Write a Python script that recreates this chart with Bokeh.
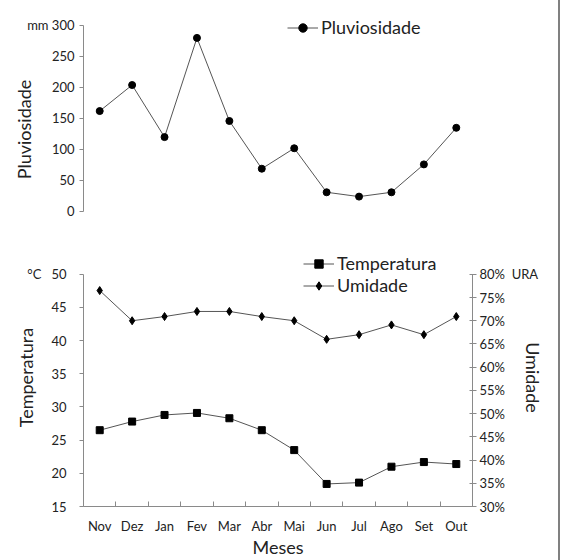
from bokeh.plotting import figure
from bokeh.models import (Range1d, LinearAxis, FixedTicker, PrintfTickFormatter,
                          Legend, LegendItem)
from bokeh.layouts import column
from bokeh.embed import file_html
from bokeh.resources import INLINE

# ---- data ----
meses = ["Nov", "Dez", "Jan", "Fev", "Mar", "Abr", "Mai", "Jun", "Jul", "Ago", "Set", "Out"]
pluviosidade = [162, 204, 120, 280, 146, 69, 102, 31, 24, 31, 76, 135]
temperatura = [26.5, 27.8, 28.8, 29.1, 28.3, 26.5, 23.5, 18.4, 18.6, 21.0, 21.7, 21.4]
umidade = [76.5, 70.0, 70.9, 72.0, 72.0, 70.9, 70.0, 66.0, 67.0, 69.1, 67.0, 70.9]
pluv_ticks = [0, 50, 100, 150, 200, 250, 300]
temp_ticks = [15, 20, 25, 30, 35, 40, 45, 50]
umid_ticks = [30, 35, 40, 45, 50, 55, 60, 65, 70, 75, 80]
unid_pluv = "mm"
unid_temp = "°C"
unid_umid = "URA"

FONT = "Lato"
TXT = "#222222"
AXC = "#8a8a8a"
LINEC = "#555555"
NB = "\u00a0"

xpos = [i + 1 for i in range(len(meses))]
bounds_ticks = [i + 0.5 for i in range(len(meses) + 1)]


def style_axis(ax, label_standoff, tick_standoff):
    ax.axis_line_color = AXC
    ax.major_tick_line_color = AXC
    ax.minor_tick_line_color = None
    ax.minor_tick_out = 0
    ax.minor_tick_in = 0
    ax.major_tick_in = 0
    ax.major_tick_out = 4
    ax.major_label_text_font = FONT
    ax.major_label_text_font_size = "13px"
    ax.major_label_text_color = TXT
    ax.major_label_standoff = tick_standoff
    ax.axis_label_text_font = FONT
    ax.axis_label_text_font_size = "18px"
    ax.axis_label_text_font_style = "normal"
    ax.axis_label_text_color = TXT
    ax.axis_label_standoff = label_standoff


def style_legend(lg):
    lg.border_line_color = None
    lg.background_fill_alpha = 0
    lg.padding = 0
    lg.margin = 0
    lg.spacing = 0
    lg.label_standoff = 3
    lg.glyph_width = 31
    lg.glyph_height = 21
    lg.label_height = 21
    lg.label_text_font = FONT
    lg.label_text_font_size = "18px"
    lg.label_text_color = TXT


# ---- top: Pluviosidade ----
p1 = figure(width=558, height=248, x_range=Range1d(0.5, 12.5),
            y_range=Range1d(-59.68, 324.19),
            x_axis_location=None, y_axis_location=None,
            output_backend="svg", toolbar_location=None,
            min_border_left=83, min_border_right=86,
            min_border_top=10, min_border_bottom=0)
p1.outline_line_color = None
p1.xgrid.visible = False
p1.ygrid.visible = False

ax1 = LinearAxis(ticker=FixedTicker(ticks=pluv_ticks), bounds=(0, 300),
                 axis_label="Pluviosidade",
                 major_label_overrides={pluv_ticks[-1]: unid_pluv + NB + str(pluv_ticks[-1])})
style_axis(ax1, -11, 5)
p1.add_layout(ax1, "left")

l1 = p1.line(xpos, pluviosidade, line_color=LINEC, line_width=1)
s1 = p1.scatter(xpos, pluviosidade, marker="circle", size=7,
                fill_color="black", line_color="black")

lg1 = Legend(items=[LegendItem(label="Pluviosidade", renderers=[l1, s1])],
             location=(204, 210))
style_legend(lg1)
p1.add_layout(lg1)

# ---- bottom: Temperatura / Umidade ----
p2 = figure(width=558, height=312, x_range=Range1d(0.5, 12.5),
            y_range=Range1d(15, 53.887),
            x_axis_location=None, y_axis_location=None,
            output_backend="svg", toolbar_location=None,
            min_border_left=79, min_border_right=86,
            min_border_top=0, min_border_bottom=52)
p2.extra_y_ranges = {"umid": Range1d(30, 85.556)}
p2.outline_line_color = None
p2.xgrid.visible = False
p2.ygrid.visible = False

ax2 = LinearAxis(ticker=FixedTicker(ticks=temp_ticks), bounds=(15, 50),
                 axis_label="Temperatura",
                 major_label_overrides={temp_ticks[-1]: unid_temp + NB * 3 + str(temp_ticks[-1])})
style_axis(ax2, -13, 13)
p2.add_layout(ax2, "left")

ax3 = LinearAxis(y_range_name="umid", ticker=FixedTicker(ticks=umid_ticks),
                 bounds=(30, 80), axis_label="Umidade",
                 formatter=PrintfTickFormatter(format="%d%%"),
                 major_label_overrides={umid_ticks[-1]: str(umid_ticks[-1]) + "%" + NB + NB + unid_umid})
style_axis(ax3, -19, 3)
ax3.major_tick_in = 3
p2.add_layout(ax3, "right")

ax4 = LinearAxis(ticker=FixedTicker(ticks=xpos, minor_ticks=bounds_ticks),
                 major_label_overrides={xv: m for xv, m in zip(xpos, meses)},
                 axis_label="Meses")
style_axis(ax4, -1, 11)
ax4.major_tick_line_color = None
ax4.major_tick_out = 0
ax4.minor_tick_line_color = AXC
ax4.minor_tick_in = 5
ax4.minor_tick_out = 0
p2.add_layout(ax4, "below")

l2 = p2.line(xpos, temperatura, line_color=LINEC, line_width=1)
s2 = p2.scatter(xpos, temperatura, marker="square", size=7,
                fill_color="black", line_color="black")
l3 = p2.line(xpos, umidade, line_color=LINEC, line_width=1, y_range_name="umid")
s3 = p2.scatter(xpos, umidade, marker="diamond", size=8,
                fill_color="black", line_color="black", y_range_name="umid")

lg2 = Legend(items=[LegendItem(label="Temperatura", renderers=[l2, s2]),
                    LegendItem(label="Umidade", renderers=[l3, s3])],
             location=(220, 210))
style_legend(lg2)
p2.add_layout(lg2)

layout = column(p1, p2, styles={"border-right": "2px solid #808080"})

open("out.html", "w").write(file_html(layout, INLINE))
